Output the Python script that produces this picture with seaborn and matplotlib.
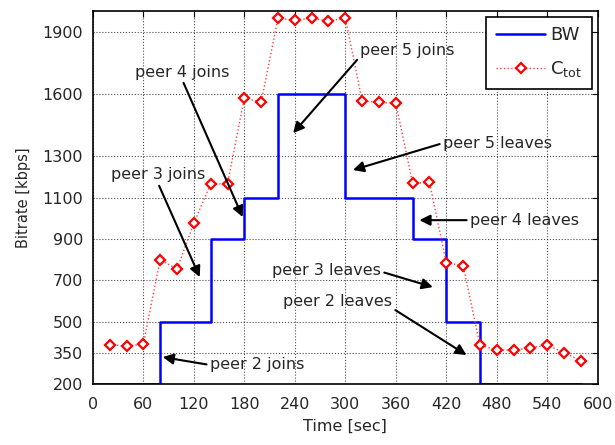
import matplotlib
matplotlib.use("Agg")
import matplotlib.pyplot as plt
import seaborn as sns
import pandas as pd

# BW step data
bw_time = [0, 80, 140, 180, 220, 300, 380, 420, 460, 580]
bw_rate = [200, 500, 900, 1100, 1600, 1100, 900, 500, 200, 200]

# C_tot measured data
ctot_time = [20, 40, 60, 80, 100, 120, 140, 160, 180, 200, 220, 240, 260, 280, 300,
             320, 340, 360, 380, 400, 420, 440, 460, 480, 500, 520, 540, 560, 580]
ctot_rate = [390, 383, 393, 800, 755, 977, 1166, 1166, 1580, 1560, 1967, 1955, 1967, 1951, 1967,
             1567, 1559, 1556, 1168, 1173, 786, 771, 388, 364, 364, 375, 388, 351, 313]

x_ticks = [0, 60, 120, 180, 240, 300, 360, 420, 480, 540, 600]
y_ticks = [200, 350, 500, 700, 900, 1100, 1300, 1600, 1900]

# annotations: label, text pos, arrow tip, ha, relpos
notes = [
    ("peer 2 joins", (139, 292), (83, 330), "left", (0.0, 0.5)),
    ("peer 3 joins", (77, 1209), (127, 716), "center", (0.5, 0.0)),
    ("peer 4 joins", (106, 1706), (178, 1006), "center", (0.5, 0.0)),
    ("peer 5 joins", (374, 1812), (238, 1411), "center", (0.0, 0.1)),
    ("peer 5 leaves", (416, 1363), (309, 1233), "left", (0.0, 0.5)),
    ("peer 4 leaves", (448, 991), (388, 991), "left", (0.0, 0.5)),
    ("peer 3 leaves", (213, 750), (404, 668), "left", (1.0, 0.4)),
    ("peer 2 leaves", (226, 596), (444, 340), "left", (1.0, 0.1)),
]

sns.set_style("white")
plt.rcParams['font.family'] = ['DejaVu Sans']
plt.rcParams['mathtext.fontset'] = 'dejavusans'

FS = 11.5

fig = plt.figure(figsize=(6.15, 4.45), dpi=100)
ax = fig.add_axes([0.151, 0.137, 0.821, 0.838])

bw_df = pd.DataFrame({"t": bw_time, "r": bw_rate})
ct_df = pd.DataFrame({"t": ctot_time, "r": ctot_rate})

sns.lineplot(data=bw_df, x="t", y="r", ax=ax, color="#0000ff", lw=1.8,
             drawstyle="steps-post", estimator=None, label="BW")
sns.lineplot(data=ct_df, x="t", y="r", ax=ax, color="#ff4040", lw=1.0,
             linestyle=":", marker="D", markersize=5.5, markerfacecolor="white",
             markeredgecolor="#ff0000", markeredgewidth=1.6, estimator=None,
             label="C$_{\\mathrm{tot}}$")

ax.set_xlim(0, 600)
ax.set_ylim(200, 2000)
ax.set_xticks(x_ticks)
ax.set_yticks(y_ticks)
ax.tick_params(direction="in", top=True, right=True, length=4, labelsize=FS,
               color="black", width=0.8)
ax.tick_params(axis="x", pad=9)
ax.tick_params(axis="y", pad=7)
ax.grid(True, linestyle=":", color="black", lw=0.8, alpha=0.7)
for s in ax.spines.values():
    s.set_color("black")
    s.set_linewidth(1.2)
ax.set_xlabel("Time [sec]", fontsize=FS, labelpad=5)
ax.set_ylabel("Bitrate [kbps]", fontsize=10.5, labelpad=8)

for label, txt, tip, ha, rp in notes:
    ax.annotate(label, xy=tip, xytext=txt, ha=ha, va="center", fontsize=FS,
                arrowprops=dict(arrowstyle="-|>", color="black", lw=1.5,
                                mutation_scale=16, relpos=rp, shrinkA=0, shrinkB=0))

leg = ax.legend(loc="upper right", fontsize=13, frameon=True, fancybox=False,
                edgecolor="black", framealpha=1, borderaxespad=0.3, handlelength=2.7,
                labelspacing=0.8, borderpad=0.55, handletextpad=0.3)
leg.get_frame().set_linewidth(1.2)

fig.savefig("out.png", dpi=100)
